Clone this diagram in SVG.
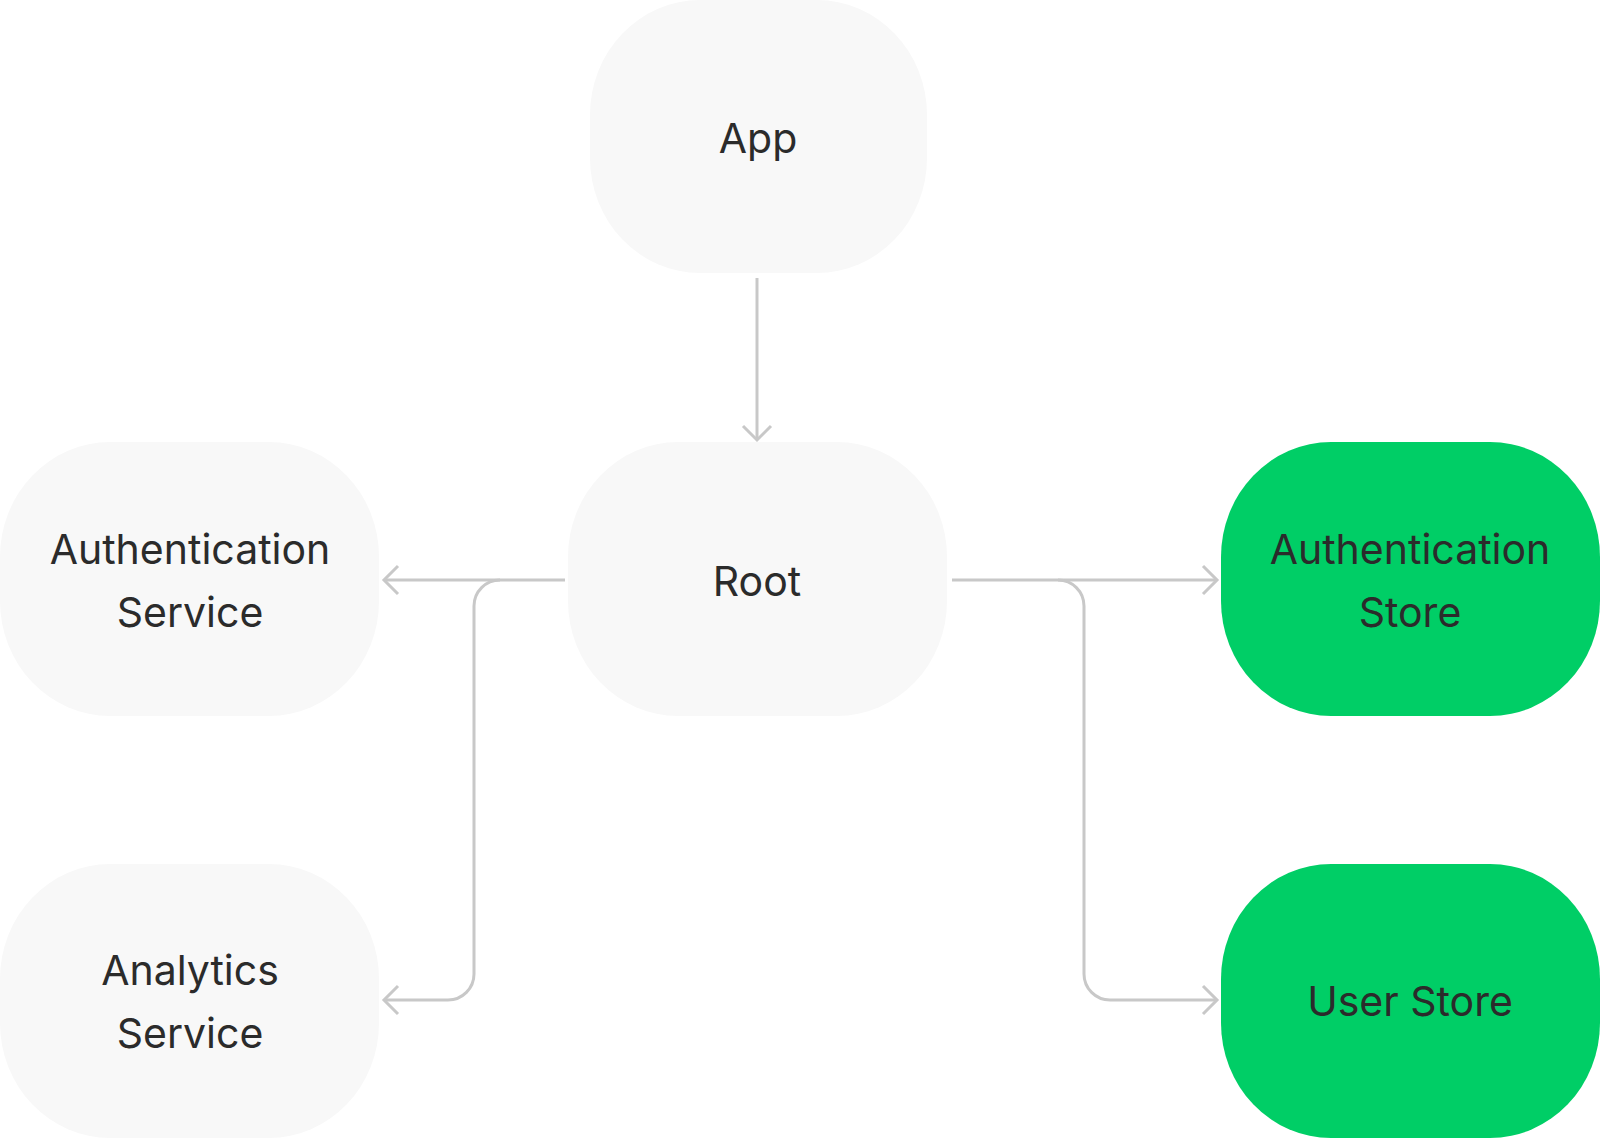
<svg xmlns="http://www.w3.org/2000/svg" width="1600" height="1138" viewBox="0 0 1600 1138">
  <style>
    .grey { fill: #f8f8f8; }
    .green { fill: #00ce66; }
    .lbl { font-family: Inter, "Noto Sans", "Liberation Sans", sans-serif; font-size: 41px; fill: #2b2b2b; text-anchor: middle; }
    .conn { fill: none; stroke: #c8c8c8; stroke-width: 3; }
  </style>
  <defs>
    <marker id="arrow" markerUnits="userSpaceOnUse" viewBox="-18 -18 22 36" markerWidth="22" markerHeight="36" refX="0" refY="0" orient="auto" overflow="visible">
      <path d="M-14,-14 L0,0 L-14,14" fill="none" stroke="#c8c8c8" stroke-width="3"/>
    </marker>
  </defs>
  <rect width="1600" height="1138" fill="#ffffff"/>

  <g id="connectors">
    <path class="conn" d="M757,278 L757,440" marker-end="url(#arrow)"/>
    <path class="conn" d="M565,580 L384,580" marker-end="url(#arrow)"/>
    <path class="conn" d="M500,580 A26,26 0 0 0 474,606 L474,974 A26,26 0 0 1 448,1000 L384,1000" marker-end="url(#arrow)"/>
    <path class="conn" d="M952,580 L1217,580" marker-end="url(#arrow)"/>
    <path class="conn" d="M1058,580 A26,26 0 0 1 1084,606 L1084,974 A26,26 0 0 0 1110,1000 L1217,1000" marker-end="url(#arrow)"/>
  </g>

  <g id="node-app">
    <rect class="grey" x="590" y="0" width="337" height="273" rx="110" ry="115"/>
    <text class="lbl" x="758" y="153">App</text>
  </g>
  <g id="node-root">
    <rect class="grey" x="568" y="442" width="379" height="274" rx="110" ry="115"/>
    <text class="lbl" x="757" y="596">Root</text>
  </g>
  <g id="node-auth-service">
    <rect class="grey" x="0" y="442" width="379" height="274" rx="110" ry="115"/>
    <text class="lbl" x="190" y="564">Authentication</text>
    <text class="lbl" x="190" y="627">Service</text>
  </g>
  <g id="node-analytics-service">
    <rect class="grey" x="0" y="864" width="379" height="274" rx="110" ry="115"/>
    <text class="lbl" x="190" y="985">Analytics</text>
    <text class="lbl" x="190" y="1048">Service</text>
  </g>
  <g id="node-auth-store">
    <rect class="green" x="1221" y="442" width="379" height="274" rx="110" ry="115"/>
    <text class="lbl" x="1410" y="564">Authentication</text>
    <text class="lbl" x="1410" y="627">Store</text>
  </g>
  <g id="node-user-store">
    <rect class="green" x="1221" y="864" width="379" height="274" rx="110" ry="115"/>
    <text class="lbl" x="1410" y="1016">User Store</text>
  </g>
</svg>
